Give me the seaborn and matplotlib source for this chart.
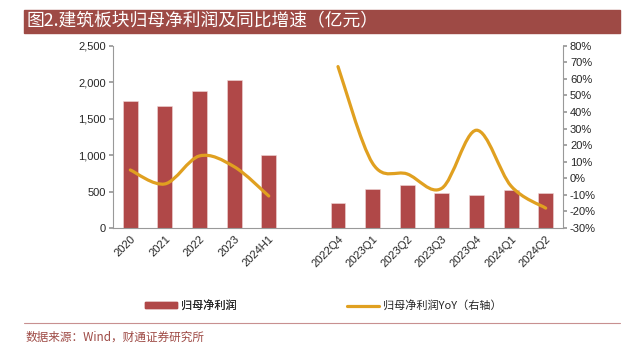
import numpy as np
import pandas as pd
import matplotlib
matplotlib.use("Agg")
import matplotlib.pyplot as plt
from matplotlib.path import Path
from matplotlib.patches import PathPatch, Rectangle
from matplotlib.lines import Line2D
import seaborn as sns

# data
annual_labels = ["2020", "2021", "2022", "2023", "2024H1"]
annual_profit = [1739, 1676, 1885, 2035, 997]
annual_yoy = [5.0, -3.4, 13.5, 7.0, -10.7]

quarter_labels = ["2022Q4", "2023Q1", "2023Q2", "2023Q3", "2023Q4", "2024Q1", "2024Q2"]
quarter_profit = [346, 528, 587, 483, 446, 519, 483]
quarter_yoy = [67.4, 9.0, 2.6, -6.0, 29.0, -4.7, -18.0]

categories = annual_labels + [""] + quarter_labels
profit = annual_profit + [np.nan] + quarter_profit

BAR = "#B04848"
LINE = "#E0A020"
BANNER = "#9E4A45"

sns.set_theme(style="white")
plt.rcParams["font.family"] = ["Liberation Sans", "Noto Sans CJK SC", "DejaVu Sans"]
cjk = ["Noto Sans CJK SC", "DejaVu Sans"]

W, H = 628, 358
fig = plt.figure(figsize=(W / 100, H / 100), dpi=100)
ax = fig.add_axes([113 / W, 1 - 228 / H, 450 / W, 182.3 / H])

df = pd.DataFrame({"cat": categories, "profit": profit})
df["pos"] = np.arange(len(df))
sns.barplot(data=df, x="pos", y="profit", color=BAR, width=0.43, saturation=1,
            edgecolor="#F0D8D8", linewidth=0.4, ax=ax)

ax.set_xlim(-0.5, len(categories) - 0.5)
ax.set_ylim(0, 2500)
ax.set_yticks(np.arange(0, 2501, 500))
ax.set_yticklabels([f"{v:,}" for v in range(0, 2501, 500)], fontsize=8)
ax.set_xticks(np.arange(len(categories)))
ax.set_xticklabels(categories, rotation=45, ha="right", rotation_mode="anchor", fontsize=8)
ax.set_xticks(np.arange(-0.5, len(categories), 1), minor=True)
ax.tick_params(axis="x", which="major", length=0, pad=4)
ax.tick_params(axis="x", which="minor", length=3, color="#999999", direction="out")
ax.tick_params(axis="y", length=3, color="#999999", direction="out", left=True, pad=2)
ax.set_xlabel("")
ax.set_ylabel("")
for s in ["top", "right"]:
    ax.spines[s].set_visible(False)
for s in ["left", "bottom"]:
    ax.spines[s].set_color("#999999")
    ax.spines[s].set_linewidth(0.8)

ax2 = ax.twinx()
ax2.set_ylim(-30, 80)
ax2.set_yticks(np.arange(-30, 81, 10))
ax2.set_yticklabels([f"{v}%" for v in range(-30, 81, 10)], fontsize=8)
ax2.tick_params(axis="y", length=3, color="#999999", direction="out", right=True, pad=2)
for s in ["top", "left", "bottom"]:
    ax2.spines[s].set_visible(False)
ax2.spines["right"].set_color("#999999")
ax2.spines["right"].set_linewidth(0.8)


def smooth_path(xs, ys):
    # Catmull-Rom style bezier through the data points (like Excel smoothed lines)
    pts = np.column_stack([xs, ys]).astype(float)
    verts = [pts[0]]
    codes = [Path.MOVETO]
    n = len(pts)
    for i in range(n - 1):
        p0 = pts[i - 1] if i > 0 else pts[i]
        p1 = pts[i]
        p2 = pts[i + 1]
        p3 = pts[i + 2] if i + 2 < n else pts[i + 1]
        c1 = p1 + (p2 - p0) / 6.0
        c2 = p2 - (p3 - p1) / 6.0
        verts += [c1, c2, p2]
        codes += [Path.CURVE4] * 3
    return Path(verts, codes)


x_annual = np.arange(len(annual_labels))
x_quarter = np.arange(len(quarter_labels)) + len(annual_labels) + 1
for xs, ys in [(x_annual, annual_yoy), (x_quarter, quarter_yoy)]:
    patch = PathPatch(smooth_path(xs, ys), facecolor="none", edgecolor=LINE,
                      linewidth=2.3, capstyle="round", transform=ax2.transData)
    ax2.add_patch(patch)

# banner title
fig.patches.append(Rectangle((24 / W, 1 - 32.7 / H), 596 / W, 22.7 / H,
                             transform=fig.transFigure, color=BANNER, zorder=0))
fig.text(26 / W, 1 - 21.5 / H, "图2.建筑板块归母净利润及同比增速（亿元）",
         color="white", fontsize=12.8, va="center", ha="left", family=cjk)

# legend, two entries placed separately
leg_kw = dict(loc="center left", frameon=False, prop={"family": cjk, "size": 8},
              handlelength=2.9, handleheight=0.5, handletextpad=0.3,
              borderpad=0, borderaxespad=0)
leg1 = fig.legend([Rectangle((0, 0), 1, 1, color=BAR)], ["归母净利润"],
                  bbox_to_anchor=(145 / W, 1 - 305.7 / H), **leg_kw)
fig.legend([Line2D([0], [0], color=LINE, linewidth=2.3)], ["归母净利润YoY（右轴）"],
           bbox_to_anchor=(347 / W, 1 - 305.7 / H), **leg_kw)
fig.add_artist(leg1)

# footer
fig.add_artist(Line2D([24 / W, 620 / W], [1 - 323 / H] * 2,
                      transform=fig.transFigure, color="#C89090", linewidth=0.8))
fig.text(25 / W, 1 - 337 / H, "数据来源：Wind，财通证券研究所", color=BANNER,
         fontsize=8.4, va="center", ha="left", family=cjk)

fig.savefig("out.png", dpi=100, facecolor="white")
